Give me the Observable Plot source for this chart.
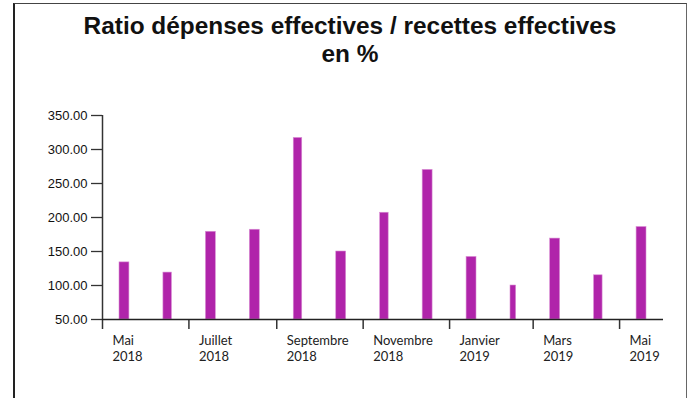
<!DOCTYPE html>
<html>
<head>
<meta charset="utf-8">
<script src="https://cdn.jsdelivr.net/npm/d3@7"></script>
<script src="https://cdn.jsdelivr.net/npm/@observablehq/plot@0.6"></script>
<style>
  html, body { margin: 0; padding: 0; background: #fff; }
  #wrap { position: relative; width: 691px; height: 398px; overflow: hidden; }
  #frame { position: absolute; left: 13px; top: 3px; width: 671px; height: 420px;
           border-left: 2px solid #222; border-top: 1.5px solid #444; border-right: 1px solid #666; }
  #title { position: absolute; left: 14px; width: 672px; top: 12px; text-align: center;
           font-family: "Liberation Sans", Arial, sans-serif; font-weight: bold; font-size: 24.4px;
           line-height: 28px; color: #111; }
  #chart { position: absolute; left: 0; top: 0; }
</style>
</head>
<body>
<div id="wrap">
  <div id="frame"></div>
  <div id="title">Ratio dépenses effectives / recettes effectives<br>en %</div>
  <div id="chart"></div>
</div>
<script>
const months = ["2018-05","2018-06","2018-07","2018-08","2018-09","2018-10","2018-11","2018-12","2019-01","2019-02","2019-03","2019-04","2019-05"];
const values = [134, 119, 179, 182, 317, 150, 207, 270, 142, 100, 169, 115, 186];
const tickMonths = ["2018-05","2018-07","2018-09","2018-11","2019-01","2019-03","2019-05"];
const tickLabels = ["Mai\n2018","Juillet\n2018","Septembre\n2018","Novembre\n2018","Janvier\n2019","Mars\n2019","Mai\n2019"];
const yTicks = [50, 100, 150, 200, 250, 300, 350];

const parse = d3.utcParse("%Y-%m");
const data = months.map((m, i) => ({date: parse(m), value: values[i]}));
const tickDates = tickMonths.map(parse);
const labelOf = new Map(tickDates.map((d, i) => [+d, tickLabels[i]]));
const xStart = parse(months[0]);
const xEnd = d3.utcMonth.offset(parse(months[months.length - 1]), 1);

const chart = Plot.plot({
  width: 691,
  height: 398,
  marginLeft: 102,
  marginRight: 28,
  marginTop: 115,
  marginBottom: 79,
  style: {background: "transparent", color: "#111"},
  x: {type: "utc", domain: [xStart, xEnd], axis: null},
  y: {domain: [50, 350], clamp: true, axis: null},
  marks: [
    Plot.rectY(data, {x: "date", interval: "month", y: "value", insetLeft: 17, insetRight: 17, fill: "#b024aa", stroke: "#d98fd4", strokeWidth: 0.6}),
    Plot.axisY({ticks: yTicks, label: null, tickFormat: d => d.toFixed(2), tickSize: 11, tickPadding: 4, fontSize: 13, fontFamily: "Liberation Sans, Arial, sans-serif", stroke: "#333", strokeWidth: 1.3}),
    Plot.axisX({ticks: tickDates, label: null, tickSize: 10, tickFormat: () => "", stroke: "#333", strokeWidth: 1.5}),
    Plot.axisX({ticks: tickDates, label: null, tickSize: 0, tickPadding: 13, tickFormat: d => labelOf.get(+d), textAnchor: "start", dx: 10, lineHeight: 1.3, fontSize: 13, fontFamily: "Lato, Open Sans, sans-serif", fill: "#222"}),
    Plot.ruleY([50], {stroke: "#222", strokeWidth: 1.5}),
    Plot.ruleX([xStart], {stroke: "#333", strokeWidth: 1.5})
  ]
});
document.getElementById("chart").append(chart);
</script>
</body>
</html>
